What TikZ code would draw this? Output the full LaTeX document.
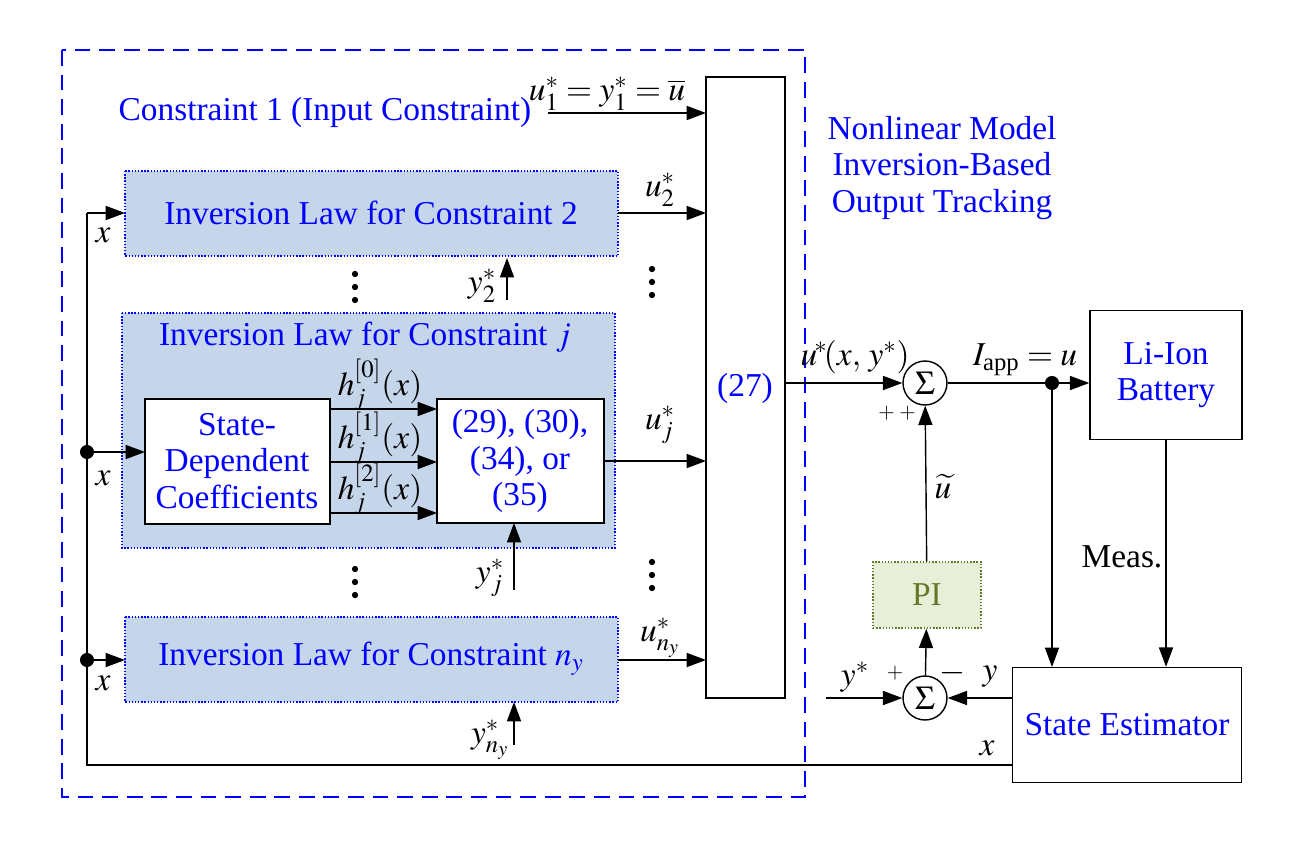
\documentclass[tikz,border=0pt]{standalone}
\usepackage{amsmath}
\usepackage{amssymb}
\usepackage{mathptmx}
\usepackage{fontspec}
\setmainfont{Liberation Serif}
\usetikzlibrary{arrows.meta}
\definecolor{lawblue}{RGB}{197,213,234}
\definecolor{pigreen}{RGB}{232,239,217}
\definecolor{piolive}{RGB}{100,120,40}
\tikzset{
	law/.style={draw=blue, densely dotted, thick, fill=lawblue},
	blk/.style={draw, thick, fill=white},
	sum/.style={draw, thick, circle, minimum size=0.88cm, inner sep=0pt, fill=white},
	sig/.style={-{Triangle[length=11pt,width=8pt]}, thick},
	lbl/.style={text=blue}
}

\begin{document}
\begin{tikzpicture}[x=0.02cm, y=-0.02cm, font=\fontsize{19}{21}\selectfont]
	\useasboundingbox (0,0) rectangle (1292,849);
	% dashed frame
	\draw[blue, dash pattern=on 9pt off 5pt, thick] (62,50) rectangle (805,797);

	% inversion law boxes
	\draw[law] (125,171) rectangle (618,256);
	\node[lbl] (law2) at (371,213) {Inversion Law for Constraint 2};
	\draw[law] (122,313) rectangle (615,548);
	\node[lbl] at (365,337) {Inversion Law for Constraint $j$};
	\draw[law] (125,617) rectangle (618,702);
	\node[lbl] (lawn) at (371,659) {Inversion Law for Constraint $n_y$};

	\draw[blk] (145,399) rectangle (330,524);
	\node[align=center, lbl] (sdc) at (237,461) {State-\\Dependent\\Coefficients};
	\draw[blk] (437,399) rectangle (604,523);
	\node[align=center, lbl] (eqs) at (520,461) {(29), (30),\\(34), or\\(35)};

	\draw[blk] (706,77) rectangle (785,698);
	\node[lbl] (inv) at (745,388) {(27)};

	\node[lbl] at (325,112) {Constraint 1 (Input Constraint)};
	\node[lbl, align=center] at (942,168) {Nonlinear Model\\Inversion-Based\\Output Tracking};

	% inputs to (27)
	\draw[sig] (548,113) -- (706,113);
	\node at (607,94) {$u_1^*=y_1^*=\overline{u}$};
	\draw[sig] (618,213) -- (706,213);
	\node at (660,190) {$u_2^*$};
	\draw[sig] (604,461) -- (706,461);
	\node at (660,425) {$u_j^*$};
	\draw[sig] (618,660) -- (706,660);
	\node at (660,638) {$u_{n_y}^*$};

	% h arrows
	\foreach \y/\k in {409/0, 462/1, 513/2} {
		\draw[sig] (330,\y) -- (437,\y);
		\node at (380,\y-24) {$h_j^{[\k]}(x)$};
	}

	% references
	\draw[sig] (507,300) -- (507,258);
	\node at (482,286) {$y_2^*$};
	\draw[sig] (514,590) -- (514,523);
	\node at (490,578) {$y_j^*$};
	\draw[sig] (514,745) -- (514,702);
	\node at (490,740) {$y_{n_y}^*$};

	% dots
	\foreach \x/\y in {355/287, 652/282, 355/582, 652/575}
		\foreach \d in {-13,0,13}
			\fill (\x,\y+\d) circle (1.8pt);

	% right side
	\node[sum] (s1) at (925,383) {$\Sigma$};
	\node[sum] (s2) at (925,698) {$\Sigma$};
	\node[blk, minimum width=3.04cm, minimum height=2.58cm, align=center, lbl] (bat) at (1166,375) {Li-Ion\\Battery};
	\node[blk, minimum width=4.58cm, minimum height=2.3cm, lbl] (est) at (1127,725) {State Estimator};
	\node[draw=piolive, densely dotted, thick, fill=pigreen, text=piolive, minimum width=2.16cm, minimum height=1.32cm] (pi) at (927,595) {PI};

	\draw[sig] (785,383) -- (s1);
	\node at (855,357) {$u^{\!*}\!(x,\,y^{*})$};
	\draw[sig] (s1) -- (bat.west |- s1);
	\node at (1025,360) {$I_{\text{app}}=u$};
	\fill (1052,383) circle (4pt);
	\draw[sig] (1052,383) -- (1052,667);
	\draw[sig] (bat.south) -- (bat.south |- est.north);
	\node at (1122,557) {Meas.};
	\draw[sig] (est.west |- s2) -- (s2);
	\node at (990,677) {$y$};
	\node at (952,673) {$-$};
	\draw[sig] (826,698) -- (s2);
	\node at (855,677) {$y^*$};
	\node[font=\fontsize{12}{13}\selectfont] at (895,673) {$+$};
	\draw[sig] (s2) -- (pi);
	\draw[sig] (pi) -- (s1);
	\node at (943,487) {$\widetilde{u}$};
	\node[font=\fontsize{12}{13}\selectfont] at (897,413) {$+\;+$};

	% state feedback
	\draw[thick] (est.west |- 0,765) -- (87,765) -- (87,213);
	\node at (987,748) {$x$};
	\draw[sig] (87,213) -- (125,213);
	\draw[sig] (87,452) -- (145,452);
	\draw[sig] (87,660) -- (125,660);
	\fill (87,452) circle (4pt);
	\fill (87,660) circle (4pt);
	\foreach \y in {235,478,683}
		\node at (103,\y) {$x$};
\end{tikzpicture}
\end{document}
